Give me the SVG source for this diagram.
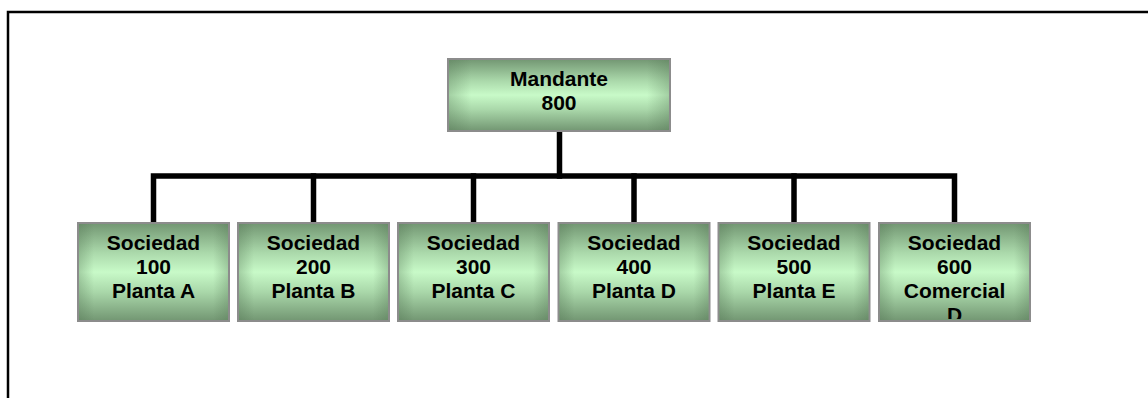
<svg xmlns="http://www.w3.org/2000/svg" width="1148" height="398" viewBox="0 0 1148 398">
  <style>
    .box { stroke: #8c8c8c; stroke-width: 2; }
    .fill { fill: url(#vgrad); }
    .shade { fill: url(#hgrad); }
    .lbl { font-family: "Liberation Sans", Arial, sans-serif; font-weight: bold; font-size: 21px; fill: #000; text-anchor: middle; }
    .conn { fill: none; stroke: #000; stroke-width: 5.5; stroke-linejoin: miter; stroke-linecap: square; }
  </style>
  <defs>
    <!-- green fill: dark at top and bottom, light through the middle -->
    <linearGradient id="vgrad" x1="0" y1="0" x2="0" y2="1">
      <stop offset="0" stop-color="#729672"/>
      <stop offset="0.3" stop-color="#aad8aa"/>
      <stop offset="0.5" stop-color="#c8fac8"/>
      <stop offset="0.7" stop-color="#aad8aa"/>
      <stop offset="1" stop-color="#729672"/>
    </linearGradient>
    <!-- slight darkening along the left and right sides -->
    <linearGradient id="hgrad" x1="0" y1="0" x2="1" y2="0">
      <stop offset="0" stop-color="#4f704f" stop-opacity="0.3"/>
      <stop offset="0.1" stop-color="#4f704f" stop-opacity="0"/>
      <stop offset="0.9" stop-color="#4f704f" stop-opacity="0"/>
      <stop offset="1" stop-color="#4f704f" stop-opacity="0.3"/>
    </linearGradient>
    <clipPath id="clip600">
      <rect x="880" y="223" width="150" height="96"/>
    </clipPath>
  </defs>

  <rect width="1148" height="398" fill="#fff"/>
  <!-- page frame -->
  <rect x="8" y="12" width="1200" height="500" fill="none" stroke="#000" stroke-width="2.5"/>

  <g id="connectors">
    <path class="conn" d="M559.5 133 V176"/>
    <path class="conn" d="M153.5 221 V176 H954.5 V221"/>
    <path class="conn" d="M313.5 176 V221"/>
    <path class="conn" d="M473.5 176 V221"/>
    <path class="conn" d="M634 176 V221"/>
    <path class="conn" d="M794 176 V221"/>
  </g>

  <g id="mandante">
    <rect class="box fill" x="448" y="59" width="222" height="72"/>
    <rect class="shade" x="449" y="60" width="220" height="70"/>
    <text class="lbl" x="559" y="86">Mandante</text>
    <text class="lbl" x="559" y="110">800</text>
  </g>

  <g id="sociedad100">
    <rect class="box fill" x="78" y="223" width="151" height="98"/>
    <rect class="shade" x="79" y="224" width="149" height="96"/>
    <text class="lbl" x="153.5" y="250">Sociedad</text>
    <text class="lbl" x="153.5" y="274">100</text>
    <text class="lbl" x="153.5" y="298">Planta A</text>
  </g>

  <g id="sociedad200">
    <rect class="box fill" x="238" y="223" width="151" height="98"/>
    <rect class="shade" x="239" y="224" width="149" height="96"/>
    <text class="lbl" x="313.5" y="250">Sociedad</text>
    <text class="lbl" x="313.5" y="274">200</text>
    <text class="lbl" x="313.5" y="298">Planta B</text>
  </g>

  <g id="sociedad300">
    <rect class="box fill" x="398" y="223" width="151" height="98"/>
    <rect class="shade" x="399" y="224" width="149" height="96"/>
    <text class="lbl" x="473.5" y="250">Sociedad</text>
    <text class="lbl" x="473.5" y="274">300</text>
    <text class="lbl" x="473.5" y="298">Planta C</text>
  </g>

  <g id="sociedad400">
    <rect class="box fill" x="558.5" y="223" width="151" height="98"/>
    <rect class="shade" x="559.5" y="224" width="149" height="96"/>
    <text class="lbl" x="634" y="250">Sociedad</text>
    <text class="lbl" x="634" y="274">400</text>
    <text class="lbl" x="634" y="298">Planta D</text>
  </g>

  <g id="sociedad500">
    <rect class="box fill" x="718.5" y="223" width="151" height="98"/>
    <rect class="shade" x="719.5" y="224" width="149" height="96"/>
    <text class="lbl" x="794" y="250">Sociedad</text>
    <text class="lbl" x="794" y="274">500</text>
    <text class="lbl" x="794" y="298">Planta E</text>
  </g>

  <g id="sociedad600">
    <rect class="box fill" x="879" y="223" width="151" height="98"/>
    <rect class="shade" x="880" y="224" width="149" height="96"/>
    <g clip-path="url(#clip600)">
      <text class="lbl" x="954.5" y="250">Sociedad</text>
      <text class="lbl" x="954.5" y="274">600</text>
      <text class="lbl" x="954.5" y="298">Comercial</text>
      <text class="lbl" x="954.5" y="322">D</text>
    </g>
  </g>
</svg>
